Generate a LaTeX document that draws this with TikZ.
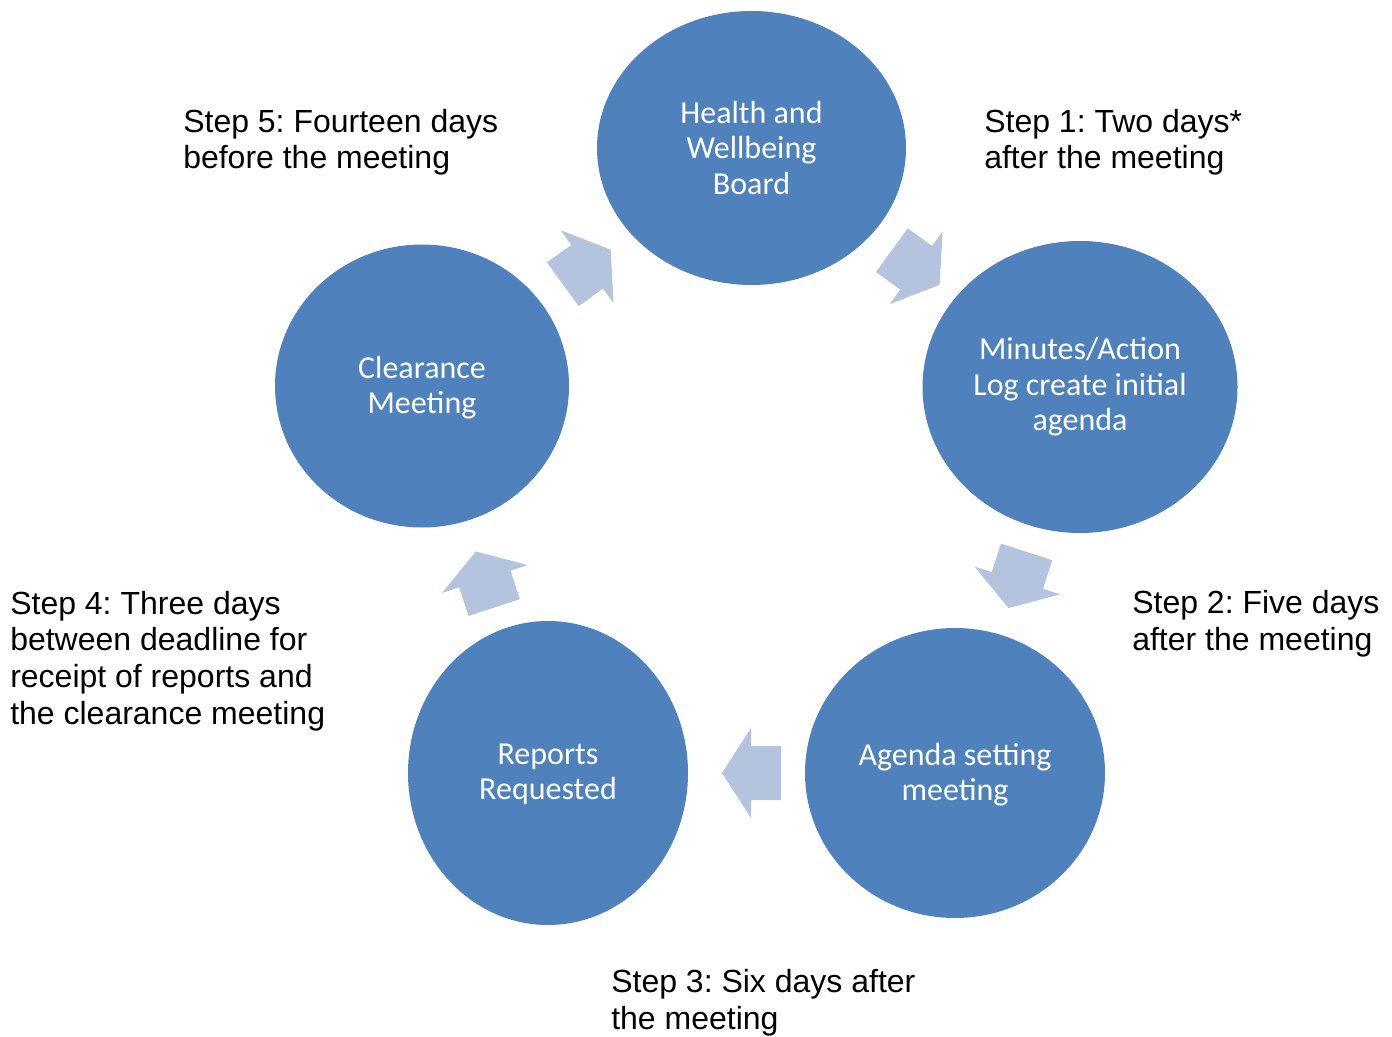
\documentclass[tikz,border=0pt]{standalone}
\usepackage{fontspec}
\setmainfont{Liberation Sans}
\newfontfamily\calibri{Carlito}
\usepackage{xcolor}
\usepackage{tikz}
\usetikzlibrary{shapes,calc,positioning}
\frenchspacing

\definecolor{stageblue}{RGB}{79,129,189}
\definecolor{arrowblue}{RGB}{180,196,222}

\begin{document}
\begin{tikzpicture}[x=0.75pt,y=0.75pt,yscale=-1,xscale=1,
  stage/.style={ellipse, fill=stageblue, text=white, inner sep=0pt, align=center, font=\calibri\fontsize{24}{26.6}\selectfont},
  steptext/.style={anchor=base west, inner sep=0pt, align=left, font=\fontsize{24}{27.5}\selectfont},
  blockarrow/.pic={\fill[arrowblue] (-29.5,-27) -- (0.5,-27) -- (0.5,-45) -- (29.5,0) -- (0.5,45) -- (0.5,27) -- (-29.5,27) -- cycle;}
]
\useasboundingbox (0,0) rectangle (1392,1037);

%Shape: Ellipse
\node [stage, minimum width=231.75pt, minimum height=205.5pt] (hwb) at (751.5,148) {Health and\\Wellbeing\\Board};
%Shape: Ellipse
\node [stage, minimum width=236.25pt, minimum height=219pt] (mal) at (1080,387) {Minutes/Action\\Log create initial\\agenda};
%Shape: Ellipse
\node [stage, minimum width=225pt, minimum height=217.5pt, text depth=2pt] (asm) at (955,773) {Agenda setting\\meeting};
%Shape: Ellipse
\node [stage, minimum width=210pt, minimum height=228pt, text depth=2pt] (rep) at (548,773) {Reports\\Requested};
%Shape: Ellipse
\node [stage, minimum width=220.5pt, minimum height=212.25pt, text depth=2pt] (clr) at (422,386) {Clearance\\Meeting};

%Block Arrows
\path let \p1=($(mal)-(hwb)$), \n1={atan2(\y1,\x1)} in ($(hwb)!0.5!(mal)$) pic [rotate=-\n1] {blockarrow};
\path let \p1=($(asm)-(mal)$), \n1={atan2(\y1,\x1)} in ($(mal)!0.5!(asm)$) pic [rotate=-\n1] {blockarrow};
\path let \p1=($(rep)-(asm)$), \n1={atan2(\y1,\x1)} in ($(asm)!0.5!(rep)$) pic [rotate=-\n1] {blockarrow};
\path let \p1=($(clr)-(rep)$), \n1={atan2(\y1,\x1)} in ($(rep)!0.5!(clr)$) pic [rotate=-\n1] {blockarrow};
\path let \p1=($(hwb)-(clr)$), \n1={atan2(\y1,\x1)} in ($(clr)!0.5!(hwb)$) pic [rotate=-\n1] {blockarrow};

% Text Node (anchored on the baseline of the last line)
\node [steptext] (s1) at (984,169) {Step 1: Two days*\\after the meeting};
% Text Node
\node [steptext] (s2) at (1132,650.5) {Step 2: Five days\\after the meeting};
% Text Node
\node [steptext] (s3) at (611,1029) {Step 3: Six days after\\the meeting};
% Text Node
\node [steptext] (s4) at (10,724) {Step 4: Three days\\between deadline for\\receipt of reports and\\the clearance meeting};
% Text Node
\node [steptext] (s5) at (183,169) {Step 5: Fourteen days\\before the meeting};

\end{tikzpicture}
\end{document}
